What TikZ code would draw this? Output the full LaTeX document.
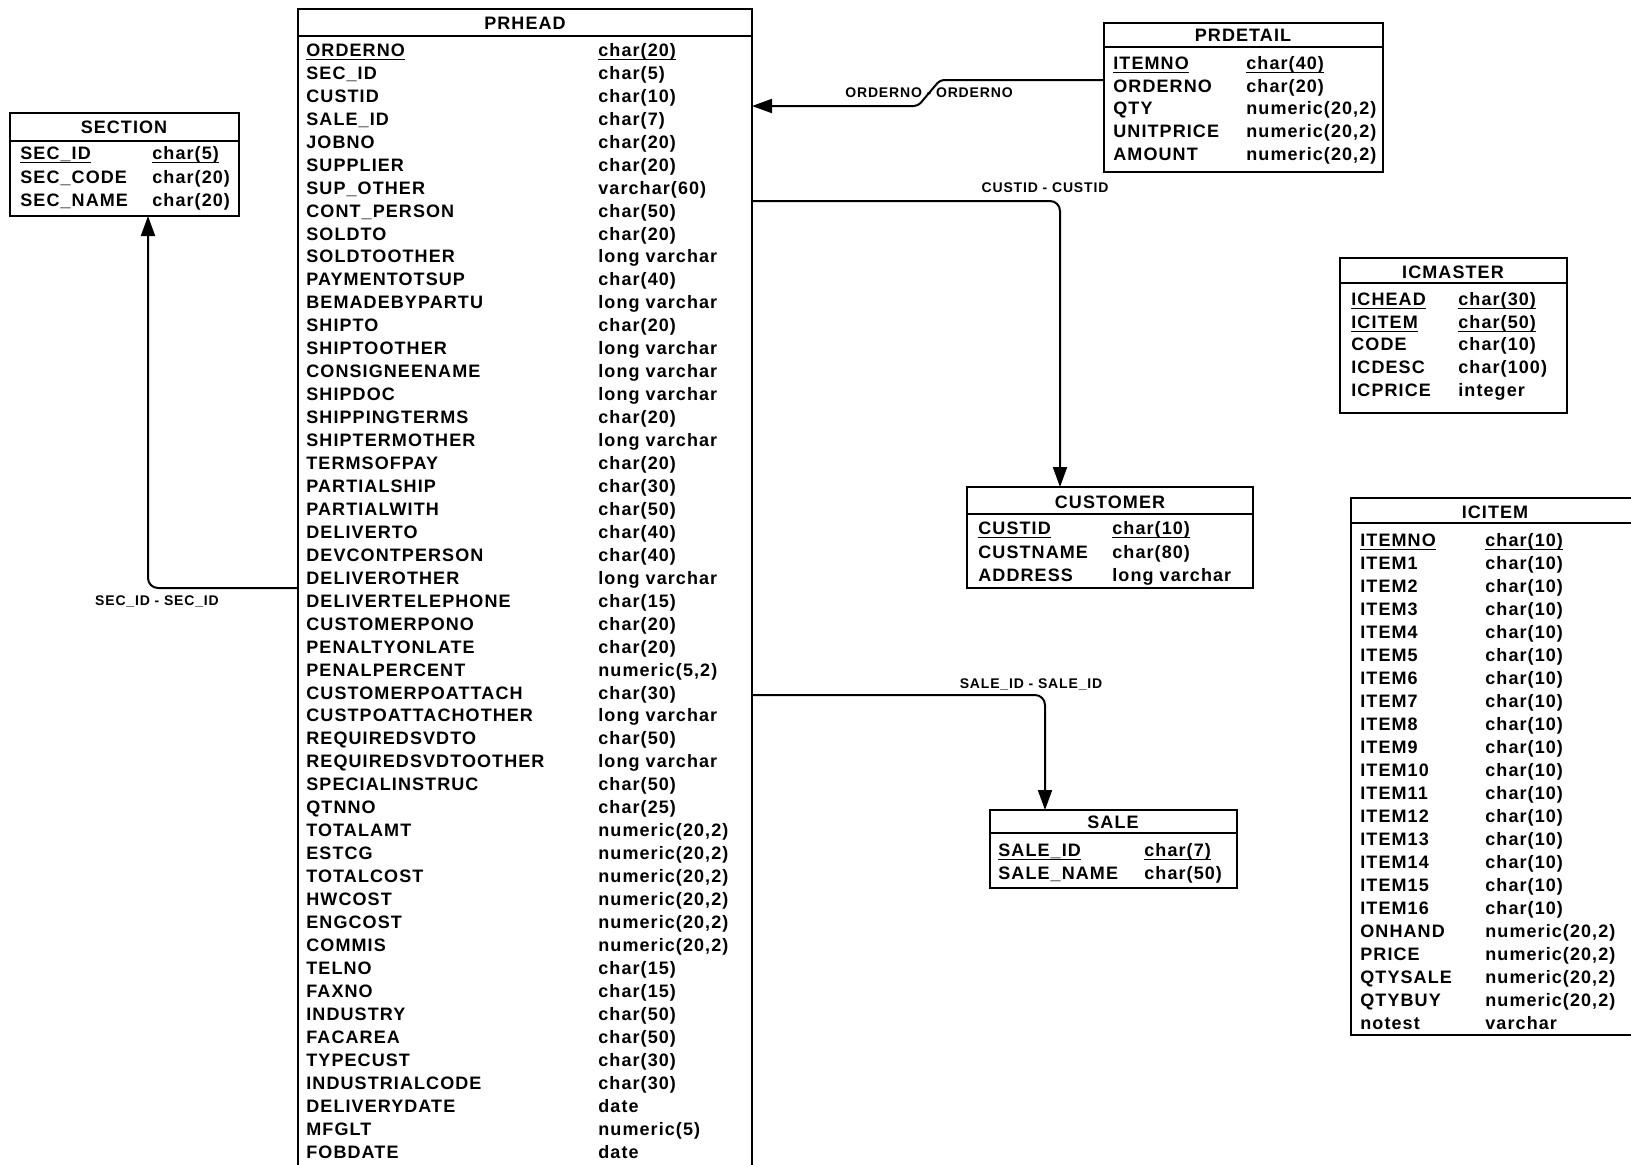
\documentclass[tikz,border=0pt]{standalone}
\usepackage{fontspec}
\newfontfamily\erfont{Liberation Sans}[LetterSpace=6]
\usetikzlibrary{arrows.meta, fit}
\def\pitch{22.95}
\newcommand\pkey[1]{\underline{\smash{#1}}}
\tikzset{
    entity/.style = {draw=black, line width=1pt, inner sep=0pt, outer sep=0pt},
    attr/.style = {anchor=base west, inner sep=0pt, yshift=-3.2pt, font=\erfont\bfseries\fontsize{9}{9}\selectfont},
    title/.style = {anchor=base, inner sep=0pt, yshift=-3.2pt, font=\erfont\bfseries\fontsize{9}{9}\selectfont},
    rel/.style = {line width=1pt, rounded corners=5pt, -{Triangle[length=10pt, width=7pt]}},
    rellabel/.style = {anchor=base, inner sep=0pt, yshift=-2.5pt, font=\erfont\bfseries\fontsize{7}{7}\selectfont}
}

\begin{document}
\begin{tikzpicture}[x=0.5pt, y=-0.5pt]
        \useasboundingbox (0,0) rectangle (1631,1164);

        % table boxes
        \node[entity, fit={(10,113) (239,216)}] (section) {};
        \node[entity, fit={(298,9) (752,1175)}] (prhead) {};
        \node[entity, fit={(1104,23) (1383,172)}] (prdetail) {};
        \node[entity, fit={(1340,258) (1567,413)}] (icmaster) {};
        \node[entity, fit={(967,487) (1253,588)}] (customer) {};
        \node[entity, fit={(1351,498) (1645,1035)}] (icitem) {};
        \node[entity, fit={(990,810) (1237,888)}] (sale) {};

        % header lines
        \draw[entity] (section.west |- 0,141) -- (section.east |- 0,141);
        \draw[entity] (prhead.west |- 0,36) -- (prhead.east |- 0,36);
        \draw[entity] (prdetail.west |- 0,47) -- (prdetail.east |- 0,47);
        \draw[entity] (icmaster.west |- 0,283) -- (icmaster.east |- 0,283);
        \draw[entity] (customer.west |- 0,514) -- (customer.east |- 0,514);
        \draw[entity] (icitem.west |- 0,523) -- (icitem.east |- 0,523);
        \draw[entity] (sale.west |- 0,833) -- (sale.east |- 0,833);

        % table titles
        \node[title] (section-h) at (124,127) {SECTION};
        \node[title] (prhead-h) at (525,23) {PRHEAD};
        \node[title] (prdetail-h) at (1243,35) {PRDETAIL};
        \node[title] (icmaster-h) at (1453,272) {ICMASTER};
        \node[title] (customer-h) at (1110,502) {CUSTOMER};
        \node[title] (icitem-h) at (1495,512) {ICITEM};
        \node[title] (sale-h) at (1113,822) {SALE};

        % SECTION
        \node[attr] (section-n0) at (20,153) {\pkey{SEC\_ID}};
        \node[attr] (section-t0) at (152,153) {\pkey{char(5)}};
        \node[attr] (section-n1) at (20,177) {SEC\_CODE};
        \node[attr] (section-t1) at (152,177) {char(20)};
        \node[attr] (section-n2) at (20,200) {SEC\_NAME};
        \node[attr] (section-t2) at (152,200) {char(20)};

        % PRHEAD
        \node[attr] (prhead-n0) at (306,50) {\pkey{ORDERNO}};
        \node[attr] (prhead-t0) at (598,50) {\pkey{char(20)}};
        \foreach \n/\t [count=\i from 1] in {SEC\_ID/char(5), CUSTID/char(10), SALE\_ID/char(7),
            JOBNO/char(20), SUPPLIER/char(20), SUP\_OTHER/varchar(60), CONT\_PERSON/char(50),
            SOLDTO/char(20), SOLDTOOTHER/long varchar, PAYMENTOTSUP/char(40), BEMADEBYPARTU/long varchar,
            SHIPTO/char(20), SHIPTOOTHER/long varchar, CONSIGNEENAME/long varchar, SHIPDOC/long varchar,
            SHIPPINGTERMS/char(20), SHIPTERMOTHER/long varchar, TERMSOFPAY/char(20), PARTIALSHIP/char(30),
            PARTIALWITH/char(50), DELIVERTO/char(40), DEVCONTPERSON/char(40), DELIVEROTHER/long varchar,
            DELIVERTELEPHONE/char(15), CUSTOMERPONO/char(20), PENALTYONLATE/char(20), {PENALPERCENT/numeric(5,2)},
            CUSTOMERPOATTACH/char(30), CUSTPOATTACHOTHER/long varchar, REQUIREDSVDTO/char(50),
            REQUIREDSVDTOOTHER/long varchar, SPECIALINSTRUC/char(50), QTNNO/char(25),
            {TOTALAMT/numeric(20,2)}, {ESTCG/numeric(20,2)}, {TOTALCOST/numeric(20,2)}, {HWCOST/numeric(20,2)},
            {ENGCOST/numeric(20,2)}, {COMMIS/numeric(20,2)}, TELNO/char(15), FAXNO/char(15), INDUSTRY/char(50),
            FACAREA/char(50), TYPECUST/char(30), INDUSTRIALCODE/char(30), DELIVERYDATE/date,
            MFGLT/numeric(5), FOBDATE/date}
        {
            \node[attr] (prhead-n\i) at (306, 50+\i*\pitch) {\n};
            \node[attr] (prhead-t\i) at (598, 50+\i*\pitch) {\t};
        }

        % PRDETAIL
        \node[attr] (prdetail-n0) at (1113,63) {\pkey{ITEMNO}};
        \node[attr] (prdetail-t0) at (1246,63) {\pkey{char(40)}};
        \foreach \n/\t [count=\i from 1] in {ORDERNO/char(20), {QTY/numeric(20,2)},
            {UNITPRICE/numeric(20,2)}, {AMOUNT/numeric(20,2)}}
        {
            \node[attr] (prdetail-n\i) at (1113, 63+\i*22.75) {\n};
            \node[attr] (prdetail-t\i) at (1246, 63+\i*22.75) {\t};
        }

        % ICMASTER
        \node[attr] (icmaster-n0) at (1351,299) {\pkey{ICHEAD}};
        \node[attr] (icmaster-t0) at (1458,299) {\pkey{char(30)}};
        \node[attr] (icmaster-n1) at (1351,322) {\pkey{ICITEM}};
        \node[attr] (icmaster-t1) at (1458,322) {\pkey{char(50)}};
        \foreach \n/\t [count=\i from 2] in {CODE/char(10), ICDESC/char(100), ICPRICE/integer}
        {
            \node[attr] (icmaster-n\i) at (1351, 299+\i*22.75) {\n};
            \node[attr] (icmaster-t\i) at (1458, 299+\i*22.75) {\t};
        }

        % CUSTOMER
        \node[attr] (customer-n0) at (978,528) {\pkey{CUSTID}};
        \node[attr] (customer-t0) at (1112,528) {\pkey{char(10)}};
        \node[attr] (customer-n1) at (978,552) {CUSTNAME};
        \node[attr] (customer-t1) at (1112,552) {char(80)};
        \node[attr] (customer-n2) at (978,575) {ADDRESS};
        \node[attr] (customer-t2) at (1112,575) {long varchar};

        % ICITEM
        \node[attr] (icitem-n0) at (1360,540) {\pkey{ITEMNO}};
        \node[attr] (icitem-t0) at (1485,540) {\pkey{char(10)}};
        \foreach \i in {1,...,16}
        {
            \node[attr] (icitem-n\i) at (1360, 540+\i*23) {ITEM\i};
            \node[attr] (icitem-t\i) at (1485, 540+\i*23) {char(10)};
        }
        \foreach \n/\t [count=\i from 17] in {{ONHAND/numeric(20,2)}, {PRICE/numeric(20,2)},
            {QTYSALE/numeric(20,2)}, {QTYBUY/numeric(20,2)}, notest/varchar}
        {
            \node[attr] (icitem-n\i) at (1360, 540+\i*23) {\n};
            \node[attr] (icitem-t\i) at (1485, 540+\i*23) {\t};
        }

        % SALE
        \node[attr] (sale-n0) at (998,850) {\pkey{SALE\_ID}};
        \node[attr] (sale-t0) at (1144,850) {\pkey{char(7)}};
        \node[attr] (sale-n1) at (998,873) {SALE\_NAME};
        \node[attr] (sale-t1) at (1144,873) {char(50)};

        % relationships
        \draw[rel] (prhead.west |- 0,588) -| (section.south -| 148,0);
        \draw[rel, rounded corners=2pt] (prdetail.west |- 0,80) -- (940,80) -- (918,106) -- (prhead.east |- 0,106);
        \draw[rel] (prhead.east |- 0,201) -| (customer.north -| 1060,0);
        \draw[rel] (prhead.east |- 0,695) -| (sale.north -| 1045,0);

        % relationship labels
        \node[rellabel] (sec-rel) at (157,600) {SEC\_ID - SEC\_ID};
        \node[rellabel] (order-rel) at (929,92) {ORDERNO - ORDERNO};
        \node[rellabel] (cust-rel) at (1045,187) {CUSTID - CUSTID};
        \node[rellabel] (sale-rel) at (1031,683) {SALE\_ID - SALE\_ID};
\end{tikzpicture}
\end{document}
